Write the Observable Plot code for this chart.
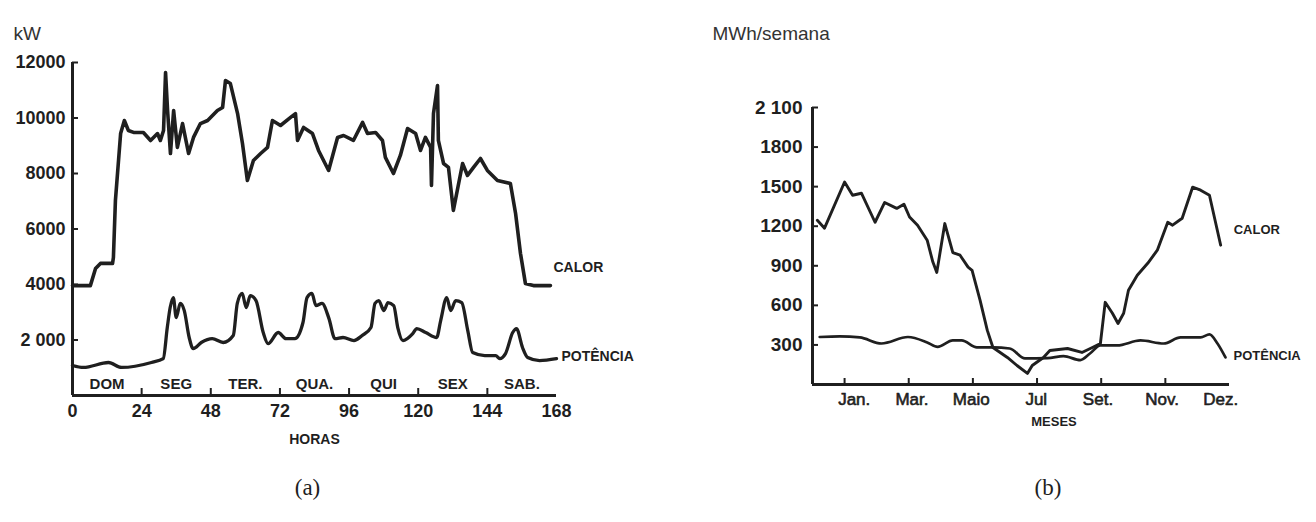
<!DOCTYPE html>
<html>
<head>
<meta charset="utf-8">
<script src="https://cdn.jsdelivr.net/npm/d3@7"></script>
<script src="https://cdn.jsdelivr.net/npm/@observablehq/plot@0.6"></script>
<style>
  html, body { margin: 0; padding: 0; background: #fff; }
  #wrap { position: relative; width: 1316px; height: 522px; overflow: hidden; }
  #wrap svg { position: absolute; top: 0; overflow: visible; }
</style>
</head>
<body>
<div id="wrap"></div>
<script>
// ---------- (a) weekly load profile, hours 0..168 ----------
const horasCalor = [0, 6.2, 8, 9.7, 13.9, 14.2, 14.9, 16.7, 18, 19.4, 21.2, 24.6, 27.1, 29.5, 30.5, 31.6, 32.3, 33, 34, 35.1, 36.4, 38.2, 40.3, 42, 44.4, 46.9, 50.3, 52.1, 53.1, 54.8, 57.3, 59, 60.7, 62.8, 65.3, 67.7, 69.4, 72.2, 75.7, 77.4, 78.1, 80.2, 83.3, 85.4, 88.9, 92, 94.1, 97.5, 100.7, 102.4, 105.2, 107.6, 108.6, 111.4, 113.8, 116.3, 119.1, 120.8, 122.5, 124.3, 124.6, 125.3, 126.7, 127, 128.8, 130.5, 132.2, 135.4, 137.1, 139.2, 141.6, 144, 147.5, 152, 153.8, 155.5, 157.2, 160, 165.9];
const kwCalor = [3960, 3960, 4580, 4760, 4760, 4970, 7030, 9440, 9910, 9550, 9480, 9480, 9190, 9440, 9190, 9550, 11640, 10270, 8720, 10270, 8940, 9800, 8720, 9300, 9800, 9910, 10270, 10380, 11350, 11240, 10160, 9080, 7750, 8470, 8720, 8940, 9910, 9730, 10020, 10160, 9190, 9660, 9440, 8830, 8110, 9300, 9370, 9190, 9840, 9440, 9480, 9190, 8580, 8000, 8650, 9620, 9440, 8830, 9300, 8940, 7570, 10160, 11170, 9190, 8360, 8220, 6670, 8360, 7930, 8220, 8540, 8110, 7750, 7640, 6560, 5120, 4040, 3960, 3960];

const horasPot = [0, 3.8, 12.5, 17, 27.4, 31.5, 32.9, 33.9, 35, 36, 37.4, 38.8, 40.5, 41.9, 44.7, 48.5, 52.3, 55.8, 57.2, 58.9, 60.3, 61.7, 63.7, 66.2, 67.9, 71.4, 74.1, 77.2, 80, 81.4, 83.1, 84.5, 86.6, 89, 91.1, 93.9, 97.7, 100.5, 103.6, 105, 106.3, 108.1, 109.5, 111.5, 112.9, 114.7, 118.1, 119.5, 122.6, 126.4, 127.8, 129.9, 131.3, 133, 135.1, 137.2, 138.9, 143.1, 146.9, 148.3, 150.3, 152.8, 154.1, 156.2, 158, 162.1, 168];
const kwPot = [1080, 1010, 1190, 1010, 1190, 1330, 2450, 3170, 3530, 2810, 3320, 3060, 2090, 1690, 1910, 2050, 1910, 2160, 3320, 3680, 3170, 3600, 3420, 2270, 1870, 2270, 2050, 2050, 2630, 3530, 3680, 3240, 3320, 2780, 2050, 2090, 1980, 2160, 2450, 3320, 3420, 3060, 3350, 3240, 2450, 1980, 2230, 2410, 2270, 2090, 2700, 3530, 3060, 3420, 3350, 2340, 1550, 1440, 1440, 1330, 1510, 2270, 2410, 1730, 1370, 1260, 1330];

const ticksHoras = [0, 24, 48, 72, 96, 120, 144, 168];
const ticksKw = [2000, 4000, 6000, 8000, 10000, 12000];
const labelsKw = ["2 000", "4000", "6000", "8000", "10000", "12000"];
const dias = ["DOM", "SEG", "TER.", "QUA.", "QUI", "SEX", "SAB."];

// ---------- (b) yearly weekly energy, weeks 0..52 ----------
const semanasCalor = [0.6, 1.5, 4, 5, 6.1, 7.8, 9, 10.5, 11.4, 12.1, 13.1, 14.3, 15, 15.5, 16.5, 17.5, 18.4, 19.4, 19.9, 20.9, 21.8, 22.5, 24.3, 25.5, 26.8, 27.4, 28.8, 29.6, 31.8, 33.6, 34.9, 35.9, 36.5, 37.4, 38.1, 38.8, 39.4, 40.5, 41.8, 43, 44.3, 44.9, 46.1, 47.4, 48.4, 49.5, 50.9];
const mwhCalor = [1245, 1185, 1535, 1435, 1450, 1230, 1380, 1335, 1367, 1270, 1208, 1094, 930, 850, 1220, 1000, 980, 890, 866, 638, 410, 281, 205, 144, 84, 144, 205, 258, 273, 243, 281, 311, 623, 540, 463, 540, 714, 828, 919, 1018, 1230, 1208, 1260, 1496, 1473, 1435, 1056];

const semanasPot = [0.9, 3.4, 5.9, 8.6, 11.9, 14.3, 15.6, 17.5, 18.6, 20.5, 22.5, 24.6, 26.5, 29.3, 31.3, 33.4, 34.6, 35.9, 38, 40.9, 43.8, 45.9, 48.4, 49.5, 50.5, 51.5];
const mwhPot = [360, 365, 357, 311, 360, 319, 285, 334, 334, 281, 281, 273, 198, 200, 215, 185, 235, 296, 296, 334, 311, 357, 357, 380, 311, 205];

const ticksMwh = [300, 600, 900, 1200, 1500, 1800, 2100];
const labelsMwh = ["300", "600", "900", "1200", "1500", "1800", "2 100"];
const ticksMeses = [4, 12, 20, 28, 36, 44];
const posMeses = [5.2, 12.4, 19.8, 27.9, 35.6, 43.6, 50.9];
const meses = ["Jan.", "Mar.", "Maio", "Jul", "Set.", "Nov.", "Dez."];

// ---------- build tables ----------
const calorA = horasCalor.map((h, i) => ({h, v: kwCalor[i]}));
const potA = horasPot.map((h, i) => ({h, v: kwPot[i]}));
const calorB = semanasCalor.map((w, i) => ({w, v: mwhCalor[i]}));
const potB = semanasPot.map((w, i) => ({w, v: mwhPot[i]}));

const INK = "#1f1f1f";
const SANS = "'Liberation Sans', Arial, sans-serif";
const SERIF = "'Liberation Serif', 'Times New Roman', serif";

// frame sizes (pixels) used for short inward tick marks
const A = {w: 660, h: 522, ml: 72, mr: 104, mt: 62, mb: 127};
const B = {w: 656, h: 522, ml: 152, mr: 87, mt: 107, mb: 138};
const innerW = c => c.w - c.ml - c.mr;
const innerH = c => c.h - c.mt - c.mb;

const chartA = Plot.plot({
  width: A.w, height: A.h,
  marginLeft: A.ml, marginRight: A.mr, marginTop: A.mt, marginBottom: A.mb,
  x: {domain: [0, 168], axis: null},
  y: {domain: [0, 12000], axis: null},
  style: {fontFamily: SANS, color: INK, background: "transparent"},
  marks: [
    Plot.axisY(ticksKw, {tickSize: 0, tickPadding: 7, fontSize: 18, fontWeight: "bold", tickFormat: d => labelsKw[ticksKw.indexOf(d)], label: null}),
    Plot.axisX(ticksHoras, {tickSize: 0, tickPadding: 9, fontSize: 18, fontWeight: "bold", label: null}),
    Plot.tickY(ticksKw, {y: d => d, stroke: INK, strokeWidth: 2, insetRight: innerW(A) - 6}),
    Plot.tickX(ticksHoras.slice(1, 7), {x: d => d, stroke: INK, strokeWidth: 2, insetTop: innerH(A) - 7}),
    Plot.ruleX([0], {stroke: INK, strokeWidth: 3}),
    Plot.ruleY([0], {stroke: INK, strokeWidth: 3}),
    Plot.text(dias, {x: (d, i) => i * 24 + 12, y: () => 0, dy: -11, fontSize: 15, fontWeight: "bold", fill: INK}),
    Plot.line(calorA, {x: "h", y: "v", stroke: INK, strokeWidth: 3.6, strokeLinejoin: "round"}),
    Plot.line(potA, {x: "h", y: "v", stroke: INK, strokeWidth: 3.3, curve: "monotone-x"}),
    Plot.text(calorA.slice(-1), {x: () => 168, y: "v", text: () => "CALOR", textAnchor: "start", dx: -3, dy: -18, fontSize: 14, fontWeight: "bold", fill: INK}),
    Plot.text(potA.slice(-1), {x: "h", y: "v", text: () => "POTÊNCIA", textAnchor: "start", dx: 5, dy: -2, fontSize: 14, fontWeight: "bold", fill: INK}),
    Plot.text(["HORAS"], {frameAnchor: "bottom", dy: 48, fontSize: 14, fontWeight: "bold", fill: INK}),
    Plot.text(["kW"], {frameAnchor: "top-left", textAnchor: "start", dx: -59, dy: -36, fontSize: 19, fill: "#333"}),
    Plot.text(["(a)"], {frameAnchor: "bottom", dx: -7, dy: 99, fontSize: 23, fontFamily: SERIF, fill: INK})
  ]
});
chartA.style.left = "0px";

const chartB = Plot.plot({
  width: B.w, height: B.h,
  marginLeft: B.ml, marginRight: B.mr, marginTop: B.mt, marginBottom: B.mb,
  x: {domain: [0, 52], axis: null},
  y: {domain: [0, 2100], axis: null},
  style: {fontFamily: SANS, color: INK, background: "transparent"},
  marks: [
    Plot.axisY(ticksMwh, {tickSize: 0, tickPadding: 10, fontSize: 19, fontWeight: "bold", tickFormat: d => labelsMwh[ticksMwh.indexOf(d)], label: null}),
    Plot.tickY(ticksMwh, {y: d => d, stroke: INK, strokeWidth: 2, insetRight: innerW(B) - 6}),
    Plot.tickX(ticksMeses, {x: d => d, stroke: INK, strokeWidth: 2, insetTop: innerH(B) - 6}),
    Plot.text(meses, {x: (d, i) => posMeses[i], y: () => 0, dy: 15, fontSize: 17, fill: INK, stroke: INK, strokeWidth: 0.6}),
    Plot.ruleX([0], {stroke: INK, strokeWidth: 3}),
    Plot.ruleY([0], {stroke: INK, strokeWidth: 3}),
    Plot.line(calorB, {x: "w", y: "v", stroke: INK, strokeWidth: 2.9, strokeLinejoin: "round"}),
    Plot.line(potB, {x: "w", y: "v", stroke: INK, strokeWidth: 2.7, curve: "monotone-x"}),
    Plot.text(calorB.slice(-1), {x: "w", y: "v", text: () => "CALOR", textAnchor: "start", dx: 13, dy: -15, fontSize: 13, fontWeight: "bold", fill: INK}),
    Plot.text(potB.slice(-1), {x: "w", y: "v", text: () => "POTÊNCIA", textAnchor: "start", dx: 8, dy: -2, fontSize: 13, fontWeight: "bold", fill: INK}),
    Plot.text(["MESES"], {frameAnchor: "bottom", dx: 33, dy: 41, fontSize: 13, fontWeight: "bold", fill: INK}),
    Plot.text(["MWh/semana"], {frameAnchor: "top-left", textAnchor: "start", dx: -100, dy: -81, fontSize: 19, fill: "#333"}),
    Plot.text(["(b)"], {frameAnchor: "bottom", dx: 27, dy: 110, fontSize: 23, fontFamily: SERIF, fill: INK})
  ]
});
chartB.style.left = "660px";

const wrap = document.getElementById("wrap");
wrap.appendChild(chartA);
wrap.appendChild(chartB);
</script>
</body>
</html>
